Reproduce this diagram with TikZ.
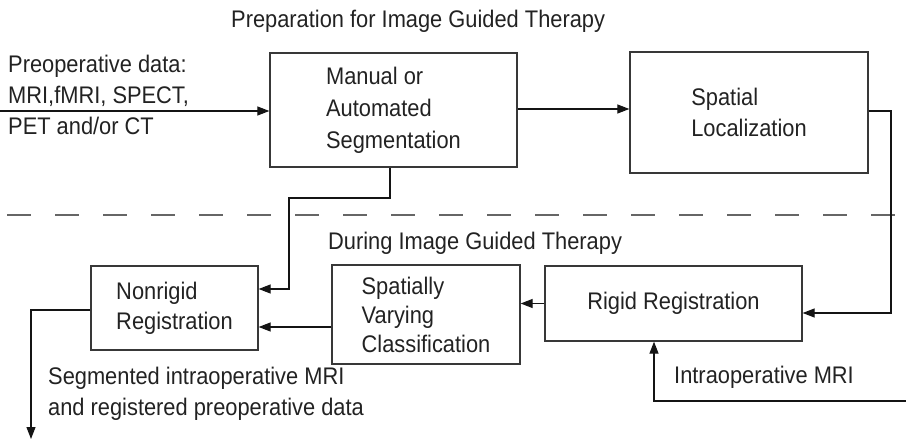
\documentclass[tikz,border=0pt]{standalone}
\usepackage{fontspec}
\setmainfont{Liberation Sans}[FakeStretch=0.91]
\usetikzlibrary{arrows.meta}
\definecolor{ink}{HTML}{222222}
\tikzset{
  txt/.style={inner sep=0pt, text=ink, font=\fontsize{24}{31}\selectfont},
  boxnode/.style={draw=black!78, line width=1.3pt, inner sep=0pt, align=left, text=ink},
  conn/.style={line width=1.2pt, draw=black!92},
  arr/.style={conn, -{Triangle[length=12pt,width=9pt]}},
  sep/.style={line width=1.3pt, draw=black!60, dash pattern=on 24pt off 24pt}
}
\begin{document}
\begin{tikzpicture}[x=1pt,y=-1pt]
\useasboundingbox (0,0) rectangle (906,441);

% boxes
\node[boxnode, minimum width=247pt, minimum height=114pt, font=\fontsize{24}{32}\selectfont] (manual) at (393.5,110) {Manual or\\Automated\\Segmentation};
\node[boxnode, minimum width=238pt, minimum height=121pt, font=\fontsize{24}{31}\selectfont] (spatial) at (749,112.5) {Spatial\\Localization};
\node[boxnode, minimum width=167pt, minimum height=84pt, font=\fontsize{24}{30}\selectfont] (nonrigid) at (174.5,308) {Nonrigid\\Registration};
\node[boxnode, minimum width=188pt, minimum height=99pt, font=\fontsize{24}{29}\selectfont] (svc) at (426,314.5) {Spatially\\Varying\\Classification};
\node[boxnode, minimum width=257pt, minimum height=75pt, font=\fontsize{24}{31}\selectfont] (rigid) at (673.5,303.5) {Rigid Registration};

% texts
\node[txt, anchor=base west] (title) at (231,28) {Preparation for Image Guided Therapy};
\node[txt, anchor=north west, align=left] (pre) at (8,54.5) {Preoperative data:\\MRI,fMRI, SPECT,\\PET and/or CT};
\node[txt, anchor=base west] (during) at (328,250) {During Image Guided Therapy};
\node[txt, anchor=north west, align=left] (seg) at (48,366.5) {Segmented intraoperative MRI\\and registered preoperative data};
\node[txt, anchor=base west] (intra) at (674,383) {Intraoperative MRI};

% separator
\coordinate (sepL) at (7,215);
\coordinate (sepR) at (895,215);
\draw[sep] (sepL) -- (sepR);

% connectors
\coordinate (in) at (0,111);
\draw[arr] (in) -- (in -| manual.west);
\draw[arr] ([yshift=1pt]manual.east) -- ([yshift=1pt]manual.east -| spatial.west);
\coordinate (sr) at (891,111);
\draw[arr] ([yshift=1.5pt]spatial.east) -- (sr) |- ([yshift=-9.5pt]rigid.east);
\draw[arr] (rigid.west) -- (rigid.west -| svc.east);
\draw[arr] ([yshift=-12.5pt]svc.west) -- ([yshift=-12.5pt]svc.west -| nonrigid.east);
\coordinate (j1) at (289,198);
\draw[arr] ([xshift=-3.5pt]manual.south) |- (j1) |- ([yshift=19pt]nonrigid.east);
\coordinate (out) at (31,439);
\draw[arr] ([yshift=-2pt]nonrigid.west) -| (out);
\coordinate (mri) at (906,401);
\draw[arr] (mri) -| ([xshift=-19.5pt]rigid.south);
\end{tikzpicture}
\end{document}
